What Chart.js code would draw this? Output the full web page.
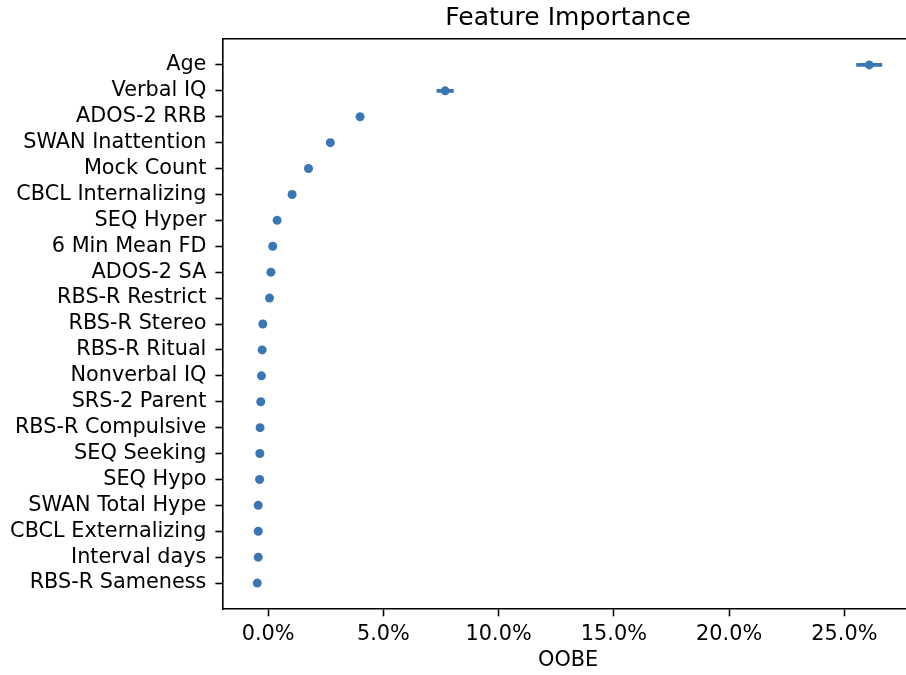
<!DOCTYPE html>
<html>
<head>
<meta charset="utf-8">
<script src="https://cdn.jsdelivr.net/npm/chart.js@4.4.1/dist/chart.umd.min.js"></script>
<style>
  html, body { margin: 0; padding: 0; background: #fff; overflow: hidden; }
  /* the original figure is cropped on the right, so the canvas runs past the window */
  #wrap { width: 918px; height: 675px; }
</style>
</head>
<body>
<div id="wrap"><canvas id="importanceChart"></canvas></div>
<script>
// Feature importance values (OOBE, in percent), top to bottom
const features = [
    'Age', 'Verbal IQ', 'ADOS-2 RRB', 'SWAN Inattention', 'Mock Count',
    'CBCL Internalizing', 'SEQ Hyper', '6 Min Mean FD', 'ADOS-2 SA', 'RBS-R Restrict',
    'RBS-R Stereo', 'RBS-R Ritual', 'Nonverbal IQ', 'SRS-2 Parent', 'RBS-R Compulsive',
    'SEQ Seeking', 'SEQ Hypo', 'SWAN Total Hype', 'CBCL Externalizing', 'Interval days',
    'RBS-R Sameness'
];
const importance = [
    26.08, 7.68, 3.99, 2.70, 1.75,
    1.04, 0.39, 0.20, 0.12, 0.06,
    -0.23, -0.26, -0.29, -0.32, -0.35,
    -0.36, -0.37, -0.43, -0.43, -0.43,
    -0.47
];
const errors = [
    0.55, 0.36, 0.08, 0.07, 0.08,
    0.05, 0.05, 0.04, 0.04, 0.04,
    0.03, 0.03, 0.03, 0.03, 0.03,
    0.03, 0.03, 0.03, 0.03, 0.03,
    0.03
];
const xTicks = [0, 5, 10, 15, 20, 25];

const blue = '#3a75b4';
const font = 'DejaVu Sans';
const xMin = -1.971, xMax = 28.0;

const points = importance.map((v, i) => ({ x: v, y: i }));
const bars = importance.map((v, i) => ({ x: [v - errors[i], v + errors[i]], y: i }));

new Chart(document.getElementById('importanceChart'), {
    type: 'bar',
    data: {
        datasets: [{
            type: 'scatter',
            data: points,
            backgroundColor: blue,
            borderColor: blue,
            borderWidth: 0,
            pointRadius: 4.5
        }, {
            // error bars as thin floating bars
            type: 'bar',
            data: bars,
            backgroundColor: blue,
            borderWidth: 0,
            barThickness: 3
        }]
    },
    options: {
        indexAxis: 'y',
        responsive: true,
        maintainAspectRatio: false,
        animation: false,
        layout: { padding: { left: 0, right: 1.7, top: 0, bottom: 0 } },
        plugins: {
            legend: { display: false },
            tooltip: { enabled: false }
        },
        scales: {
            x: {
                type: 'linear',
                min: xMin,
                max: xMax,
                afterBuildTicks: s => { s.ticks = xTicks.map(v => ({ value: v })); },
                afterFit: s => { s.height = 66; },
                grid: { drawOnChartArea: false, tickLength: 7.3, color: '#000', tickWidth: 1.6 },
                border: { color: '#000', width: 1.6 },
                ticks: {
                    color: '#000',
                    padding: 5.5,
                    maxRotation: 0,
                    font: { family: font, size: 20.8 },
                    callback: v => v.toFixed(1) + '%'
                },
                title: {
                    display: true,
                    text: 'OOBE',
                    color: '#000',
                    font: { family: font, size: 20.8 },
                    padding: { top: 0, bottom: 1.5 }
                }
            },
            // top spine, also carries the chart title centred over the plot area
            x2: {
                type: 'linear',
                position: 'top',
                min: xMin,
                max: xMax,
                afterFit: s => { s.height = 39; },
                grid: { display: false },
                border: { display: true, color: '#000', width: 1.6 },
                ticks: { display: false },
                title: {
                    display: true,
                    text: 'Feature Importance',
                    color: '#000',
                    font: { family: font, size: 25 },
                    padding: { top: 3.5, bottom: 0 }
                }
            },
            y: {
                type: 'linear',
                reverse: true,
                offset: false,
                min: -1,
                max: 21,
                afterBuildTicks: s => { s.ticks = features.map((f, i) => ({ value: i })); },
                afterFit: s => { s.width = 222.7; },
                grid: { offset: false, drawOnChartArea: false, tickLength: 7.3, color: '#000', tickWidth: 1.6 },
                border: { color: '#000', width: 1.6 },
                ticks: {
                    color: '#000',
                    padding: 9,
                    autoSkip: false,
                    font: { family: font, size: 20.8 },
                    callback: v => features[v]
                }
            }
        }
    }
});
</script>
</body>
</html>
